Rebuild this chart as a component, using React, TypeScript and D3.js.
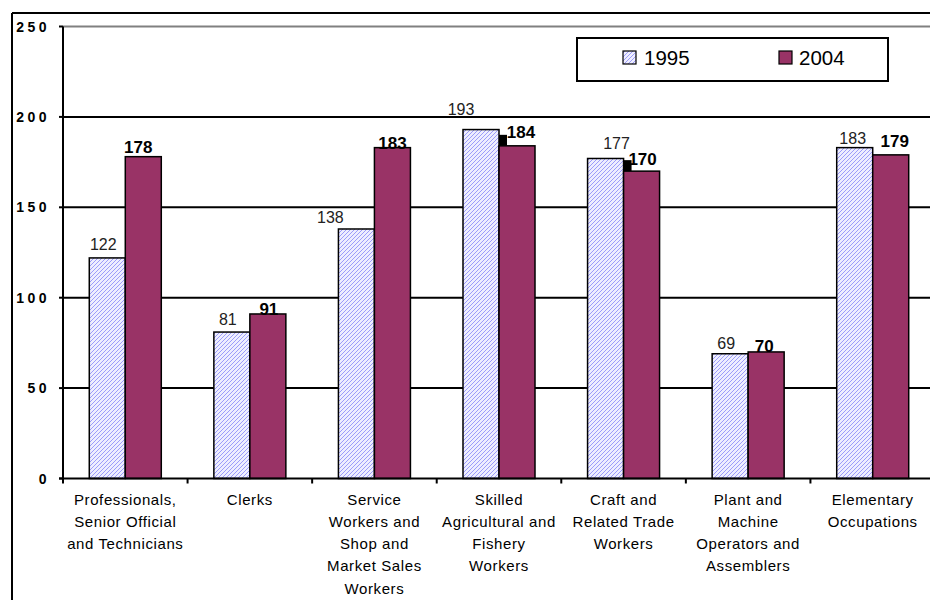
import React from "react";
import * as d3 from "d3";

const categories: string[][] = [
  ["Professionals,", "Senior Official", "and Technicians"],
  ["Clerks"],
  ["Service", "Workers and", "Shop and", "Market Sales", "Workers"],
  ["Skilled", "Agricultural and", "Fishery", "Workers"],
  ["Craft and", "Related Trade", "Workers"],
  ["Plant and", "Machine", "Operators and", "Assemblers"],
  ["Elementary", "Occupations"],
];
const series = ["1995", "2004"];
const values1995 = [122, 81, 138, 193, 177, 69, 183];
const values2004 = [178, 91, 183, 184, 170, 70, 179];
const yTicks = [0, 50, 100, 150, 200, 250];

// label nudges (dx from bar centre, gap above bar top)
const nudge1995: [number, number][] = [[-4, 8], [-4, 7], [-26, 6], [-20, 15], [11, 9], [-4, 5], [-2, 4]];
const nudge2004: [number, number][] = [[-5, 4], [1, -1], [0, -1], [4, 8], [1, 6], [-2, 0], [4, 8]];
const shadowed = [3, 4];

const FONT = "'Liberation Sans', Arial, sans-serif";
const PLUM = "#993366";

export default function App() {
  const W = 930, H = 600;
  const left = 63, right = 935, top = 26.5, bottom = 478.5;
  const x0 = d3.scaleBand<number>().domain(d3.range(categories.length)).range([left, right]).padding(0);
  const bw = x0.bandwidth();
  const groupW = bw * 0.578;
  const x1 = d3.scaleBand<string>().domain(series).range([(bw - groupW) / 2, (bw + groupW) / 2]).padding(0);
  const y = d3.scaleLinear().domain([0, 250]).range([bottom, top]);
  const barW = x1.bandwidth();

  return (
    <svg width={W} height={H} style={{ display: "block", position: "absolute", left: 0, top: 0, background: "#fff" }} fontFamily={FONT}>
      <defs>
        <pattern id="hatch" width="4" height="4" patternUnits="userSpaceOnUse">
          <rect width="4" height="4" fill="#eeeeff" />
          <path d="M-1,1 l2,-2 M0,4 l4,-4 M3,5 l2,-2" stroke="#9c9cfa" strokeWidth="1" />
        </pattern>
      </defs>
      <rect x={0} y={0} width={W} height={H} fill="#fff" />
      {/* outer frame */}
      <line x1={12} x2={W} y1={13} y2={13} stroke="#000" strokeWidth={2} />
      <line x1={12} x2={12} y1={13} y2={H} stroke="#000" strokeWidth={2} />

      {/* gridlines */}
      {yTicks.filter((t) => t > 0).map((t) => (
        <line key={t} x1={left} x2={W} y1={y(t)} y2={y(t)} stroke={t === 250 ? "#808080" : "#000"} strokeWidth={2} />
      ))}

      {/* y axis */}
      {yTicks.map((t) => (
        <g key={"yt" + t}>
          <line x1={left - 4} x2={left} y1={y(t)} y2={y(t)} stroke="#000" strokeWidth={2} />
          <text x={50} y={y(t) + 5} textAnchor="end" fontSize={14} fontWeight="bold" letterSpacing={3.5} fill="#000">
            {t}
          </text>
        </g>
      ))}

      {/* bars */}
      {categories.map((_, i) => {
        const gx = x0(i)!;
        const xa = gx + x1("1995")!;
        const xb = gx + x1("2004")!;
        const v1 = values1995[i], v2 = values2004[i];
        return (
          <g key={"bars" + i}>
            {shadowed.includes(i) && (
              <rect x={xb - 1} y={y(v2) - 11} width={9} height={11} fill="#000" />
            )}
            <rect x={xa} y={y(v1)} width={barW} height={y(0) - y(v1)} fill="url(#hatch)" stroke="#000" strokeWidth={1.5} />
            <rect x={xb} y={y(v2)} width={barW} height={y(0) - y(v2)} fill={PLUM} stroke="#000" strokeWidth={1.5} />
          </g>
        );
      })}

      {/* axes lines */}
      <line x1={left} x2={left} y1={top} y2={bottom} stroke="#000" strokeWidth={2} />
      <line x1={left - 4} x2={W} y1={bottom} y2={bottom} stroke="#000" strokeWidth={2} />
      {d3.range(categories.length + 1).map((i) => (
        <line key={"xt" + i} x1={left + i * bw} x2={left + i * bw} y1={bottom} y2={bottom + 5} stroke="#000" strokeWidth={2} />
      ))}

      {/* data labels */}
      {categories.map((_, i) => {
        const gx = x0(i)!;
        const ca = gx + x1("1995")! + barW / 2 + nudge1995[i][0];
        const cb = gx + x1("2004")! + barW / 2 + nudge2004[i][0];
        const ya = y(values1995[i]) - nudge1995[i][1];
        const yb = y(values2004[i]) - nudge2004[i][1];
        return (
          <g key={"lab" + i}>
            <rect x={ca - 15} y={ya - 13} width={30} height={14} fill="#fff" />
            <text x={ca} y={ya} textAnchor="middle" fontSize={16} fill="#222" stroke="#fff" strokeWidth={0.8} paintOrder="stroke">
              {values1995[i]}
            </text>
            <text x={cb} y={yb} textAnchor="middle" fontSize={17} fontWeight="bold" fill="#000">
              {values2004[i]}
            </text>
          </g>
        );
      })}

      {/* category labels */}
      {categories.map((lines, i) => (
        <text key={"cat" + i} x={x0(i)! + bw / 2} textAnchor="middle" fontSize={15} letterSpacing={0.6} fill="#000">
          {lines.map((l, j) => (
            <tspan key={j} x={x0(i)! + bw / 2} y={504.5 + j * 22.3}>
              {l}
            </tspan>
          ))}
        </text>
      ))}

      {/* legend */}
      <rect x={577} y={38} width={311} height={43} fill="#fff" stroke="#000" strokeWidth={2} />
      <rect x={623} y={51} width={13} height={13} fill="url(#hatch)" stroke="#000" strokeWidth={1.2} />
      <text x={644} y={64.5} fontSize={20.5} fill="#000">1995</text>
      <rect x={779} y={51} width={13} height={13} fill={PLUM} stroke="#000" strokeWidth={1.2} />
      <text x={799} y={64.5} fontSize={20.5} fill="#000">2004</text>
    </svg>
  );
}
